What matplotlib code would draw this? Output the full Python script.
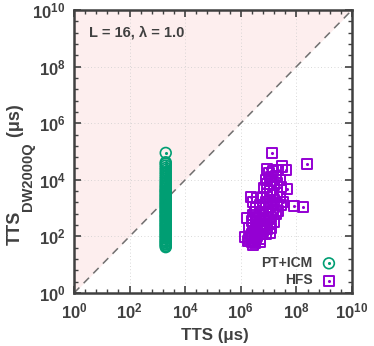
import numpy as np
import matplotlib
matplotlib.use("Agg")
import matplotlib.pyplot as plt
from matplotlib.legend_handler import HandlerTuple
from matplotlib.ticker import FixedLocator, FuncFormatter
from matplotlib.transforms import IdentityTransform

plt.rcParams['font.family'] = ['Liberation Sans', 'DejaVu Sans']
plt.rcParams['font.weight'] = 'bold'
plt.rcParams['mathtext.fontset'] = 'custom'
plt.rcParams['mathtext.rm'] = 'Liberation Sans:bold'
plt.rcParams['mathtext.bf'] = 'Liberation Sans:bold'
plt.rcParams['mathtext.it'] = 'Liberation Sans:bold'

# ---- data (log10 of microseconds) ----
pt_x_log = 3.3
pt_y_log = [1.62, 1.66, 1.71, 1.74, 1.79, 1.83, 1.86, 1.92, 1.95, 2.01, 2.04, 2.09,
            2.13, 2.18, 2.22, 2.26, 2.31, 2.35, 2.4, 2.43, 2.48, 2.52, 2.57, 2.6,
            2.66, 2.7, 2.73, 2.78, 2.83, 2.87, 2.9, 2.95, 3.0, 3.04, 3.08, 3.13,
            3.17, 3.21, 3.26, 3.3, 3.34, 3.39, 3.43, 3.47, 3.52, 3.57, 3.61, 3.64,
            3.7, 3.75, 3.8, 3.86, 3.92, 3.98, 4.05, 4.12, 4.2, 4.27, 4.35, 4.42,
            4.5, 4.57, 4.62, 4.95]

hfs_x_log = [6.15, 6.21, 6.45, 6.4, 6.5, 6.3, 6.35, 6.55, 6.6, 6.7, 6.4, 6.5, 6.6, 6.3,
             6.45, 6.7, 6.8, 6.9, 7.04, 6.55, 6.65, 6.75, 6.85, 6.95, 7.0, 6.6, 6.8, 6.9,
             7.1, 7.2, 7.15, 6.5, 6.36, 6.45, 6.55, 6.7, 6.8, 6.9, 7.0, 7.1, 7.2, 7.3,
             7.35, 7.25, 6.6, 6.8, 6.95, 7.05, 7.15, 7.3, 7.4, 7.5, 7.67, 7.91, 8.25,
             7.45, 6.85, 6.95, 7.05, 7.2, 7.3, 7.45, 6.9, 7.1, 7.25, 7.4, 6.93, 7.0,
             7.15, 7.35, 7.47, 7.62, 7.11, 8.37, 6.6, 6.7, 6.5, 6.25, 6.75, 6.85, 6.95,
             7.05, 7.1, 6.6, 6.7, 6.4, 6.45, 6.55]
hfs_y_log = [1.97, 2.64, 1.70, 1.8, 1.85, 1.9, 2.0, 1.95, 2.05, 1.9, 2.1, 2.2, 2.25, 2.3,
             2.4, 2.3, 2.2, 2.1, 2.11, 2.5, 2.6, 2.45, 2.55, 2.4, 2.6, 2.7, 2.75, 2.8,
             2.7, 2.5, 2.9, 2.85, 3.38, 3.2, 3.0, 3.1, 3.0, 3.2, 3.05, 3.15, 3.3, 3.1,
             2.9, 2.8, 3.35, 3.4, 3.5, 3.6, 3.45, 3.55, 3.4, 3.2, 3.66, 3.07, 3.05,
             3.1, 3.7, 3.85, 3.95, 3.8, 3.9, 3.75, 4.0, 4.1, 4.15, 4.0, 4.39, 4.25,
             4.3, 4.35, 4.47, 4.35, 4.93, 4.56, 2.0, 1.8, 1.75, 1.85, 2.1, 2.35, 2.25,
             2.45, 2.3, 2.4, 2.55, 2.55, 2.75, 2.65]

major_exps = [0, 2, 4, 6, 8, 10]
label_pt = "PT+ICM"
label_hfs = "HFS"
annot = "L = 16, λ = 1.0"
xlabel = "TTS (μs)"
ylabel_parts = ["TTS", "DW2000Q", " (μs)"]

green = "#009e73"
purple = "#9400d3"
dark = "#404040"

pt_x = np.full(len(pt_y_log), 10.0 ** pt_x_log)
pt_y = 10.0 ** np.array(pt_y_log)
hfs_x = 10.0 ** np.array(hfs_x_log)
hfs_y = 10.0 ** np.array(hfs_y_log)

W, H = 374, 346
fig = plt.figure(figsize=(W / 100, H / 100), dpi=100)
ax = fig.add_axes([74/W, 1-293/H, (352-74)/W, (293-10)/H])
ax.set_xscale('log')
ax.set_yscale('log')
lo, hi = 10.0 ** major_exps[0], 10.0 ** major_exps[-1]
ax.set_xlim(lo, hi)
ax.set_ylim(lo, hi)

# shaded upper-left triangle and diagonal
ax.fill_between([lo, hi], [lo, hi], [hi, hi], color="#fdeeee", lw=0, zorder=0)
ax.plot([lo, hi], [lo, hi], ls=(0, (5, 4)), color="#707070", lw=1.1, zorder=1)

# grid
for e in major_exps[1:-1]:
    ax.axvline(10.0 ** e, color="#cccccc", lw=0.6, ls=(0, (1, 3)), zorder=0.5)
    ax.axhline(10.0 ** e, color="#cccccc", lw=0.6, ls=(0, (1, 3)), zorder=0.5)

c1 = ax.scatter(pt_x, pt_y, s=60, facecolors='none', edgecolors=green, linewidths=1.2, marker='o', zorder=3)
d1 = ax.scatter(pt_x, pt_y, s=1.5, color=green, marker='o', zorder=3)
s1 = ax.scatter(hfs_x, hfs_y, s=52, facecolors='none', edgecolors=purple, linewidths=1.4, marker='s', zorder=4)
d2 = ax.scatter(hfs_x, hfs_y, s=1.5, color=purple, marker='o', zorder=4)

# ticks
ax.xaxis.set_major_locator(FixedLocator([10.0 ** e for e in major_exps]))
ax.yaxis.set_major_locator(FixedLocator([10.0 ** e for e in major_exps]))
minor = [10.0 ** (k * 0.4) for k in range(26) if (k * 0.4) % 2 > 0.01 and abs((k*0.4) % 2 - 2) > 0.01]
ax.xaxis.set_minor_locator(FixedLocator(minor))
ax.yaxis.set_minor_locator(FixedLocator(minor))
fmt = FuncFormatter(lambda v, p: r'$\mathbf{10^{%d}}$' % round(np.log10(v)))
ax.xaxis.set_major_formatter(fmt)
ax.yaxis.set_major_formatter(fmt)
ax.xaxis.set_minor_formatter(FuncFormatter(lambda v, p: ''))
ax.yaxis.set_minor_formatter(FuncFormatter(lambda v, p: ''))
ax.tick_params(which='both', direction='in', top=True, right=True, color=dark, labelcolor=dark, labelsize=12)
ax.tick_params(which='major', length=5, width=1.2, pad=6)
ax.tick_params(which='minor', length=3, width=1.0)
for sp in ax.spines.values():
    sp.set_color(dark)
    sp.set_linewidth(1.8)

# x label
fig.text(215 / W, 6 / H, xlabel, fontsize=12.2, fontweight='bold', color=dark,
         ha='center', va='baseline')

# y label composed of main text + large subscript
ax.text(0.055, 0.92, annot, transform=ax.transAxes, fontsize=10.5, fontweight='bold',
        color=dark, va='center', ha='left')

leg = ax.legend([(c1, d1), (s1, d2)], [label_pt, label_hfs], handler_map={tuple: HandlerTuple(ndivide=1)},
                loc='lower right', bbox_to_anchor=(0.962, 0.0), frameon=False, markerfirst=False, fontsize=10,
                handlelength=1.0, handletextpad=0.7, labelspacing=0.25, borderaxespad=0.0)
for t in leg.get_texts():
    t.set_color(dark)
    t.set_fontweight('bold')

fig.canvas.draw()
renderer = fig.canvas.get_renderer()
ybot = H - 245.0
x_base = 20.0
sizes = [13.0, 10.5, 13.0]
xoffs = [0.0, 12.0, 0.0]
cur = ybot
for part, fs, xo in zip(ylabel_parts, sizes, xoffs):
    t = fig.text(x_base + xo, cur, part, transform=IdentityTransform(), fontsize=fs,
                 fontweight='bold', color=dark, rotation=90, rotation_mode='anchor',
                 ha='left', va='baseline')
    bb = t.get_window_extent(renderer)
    cur += bb.height

fig.savefig("out.png", dpi=100)
